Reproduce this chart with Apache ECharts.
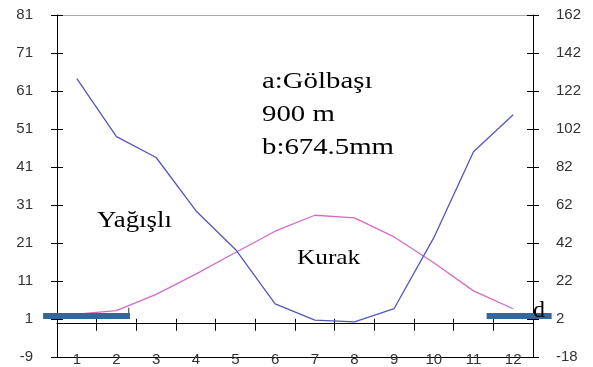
<!DOCTYPE html>
<html>
<head>
<meta charset="utf-8">
<script src="https://cdn.jsdelivr.net/npm/echarts@6/dist/echarts.min.js"></script>
<style>
html,body{margin:0;padding:0;background:#fff;}
#c{width:593px;height:367px;}
</style>
</head>
<body>
<div id="c"></div>
<script>
// Data
var months = ['1','2','3','4','5','6','7','8','9','10','11','12'];
var temperature = [2.3, 3.2, 7.5, 12.8, 18.5, 24.1, 28.3, 27.6, 22.6, 15.8, 8.4, 3.7];      // °C, left axis
var precipitation = [128.5, 98, 87, 59, 38.6, 10, 1.4, 0.5, 7.5, 44.8, 90, 109.5];          // mm, right axis
var leftTicks = {min: -9, max: 81, interval: 10};
var rightTicks = {min: -18, max: 162, interval: 20};
var frostLeft = [[0.15, 2.0], [2.34, 2.0]];
var frostRight = [[11.33, 2.0], [12.97, 2.0]];
var bracket = [[2.31, 2.0], [2.31, 4.2]];
var titleLines = ['a:Gölbaşı', '900 m', 'b:674.5mm'];
var wetLabel = 'Yağışlı';
var dryLabel = 'Kurak';
var markD = 'd';

var W = 593, H = 367;
var G = {left: 57, right: 60, top: 15, bottom: 9};
var plotW = W - G.left - G.right;
var unit = plotW / months.length;
// full-width helper grid, with a value axis mapped identically to the category centres
var helperMin = 0.5 - G.left / unit;
var helperMax = months.length + 0.5 + G.right / unit;

var chart = echarts.init(document.getElementById('c'), null, {renderer: 'canvas'});
var labelFont = {fontFamily: 'Liberation Sans, Arial, sans-serif', fontSize: 15, color: '#333'};
var serif = 'Liberation Serif, Times New Roman, serif';

function yAx(pos, t, showLabel, inside, margin) {
  return {
    type: 'value', gridIndex: 0, position: pos, min: t.min, max: t.max, interval: t.interval,
    splitLine: {show: false},
    axisLine: {show: showLabel, lineStyle: {color: '#000', width: 1}},
    axisTick: {show: true, inside: inside, length: 6, lineStyle: {color: '#000'}},
    axisLabel: Object.assign({show: showLabel, margin: margin}, labelFont)
  };
}

var option = {
  animation: false,
  backgroundColor: '#fff',
  grid: [
    {left: G.left, right: G.right, top: G.top, bottom: G.bottom, containLabel: false},
    {left: 0, right: 0, top: G.top, bottom: G.bottom, containLabel: false}
  ],
  xAxis: [
    { // zero line with ticks (down)
      type: 'category', gridIndex: 0, data: months, position: 'bottom', boundaryGap: true,
      axisLine: {show: true, onZero: true, onZeroAxisIndex: 0, lineStyle: {color: '#000'}},
      axisTick: {show: true, inside: false, length: 8, lineStyle: {color: '#000'}},
      axisLabel: {show: false}, splitLine: {show: false}
    },
    { // zero line ticks (up)
      type: 'category', gridIndex: 0, data: months, position: 'bottom', boundaryGap: true,
      axisLine: {show: false, onZero: true, onZeroAxisIndex: 0},
      axisTick: {show: true, inside: true, length: 4, lineStyle: {color: '#000'}},
      axisLabel: {show: false}, splitLine: {show: false}
    },
    { // bottom line with labels
      type: 'category', gridIndex: 0, data: months, position: 'bottom', boundaryGap: true,
      axisLine: {show: true, onZero: false, lineStyle: {color: '#000'}},
      axisTick: {show: false},
      axisLabel: Object.assign({show: true, margin: -5}, labelFont),
      splitLine: {show: false}
    },
    { // top border
      type: 'category', gridIndex: 0, data: months, position: 'top',
      axisLine: {show: true, onZero: false, lineStyle: {color: '#aaa'}},
      axisTick: {show: false}, axisLabel: {show: false}, splitLine: {show: false}
    },
    { // helper value axis for frost bars
      type: 'value', gridIndex: 1, min: helperMin, max: helperMax, show: false
    }
  ],
  yAxis: [
    yAx('left', leftTicks, true, false, 24),
    yAx('right', rightTicks, true, false, 23),
    yAx('left', leftTicks, false, true, 0),
    yAx('right', rightTicks, false, true, 0),
    {type: 'value', gridIndex: 1, min: leftTicks.min, max: leftTicks.max, show: false}
  ],
  series: [
    {
      type: 'line', name: 'temp', xAxisIndex: 0, yAxisIndex: 0, data: temperature,
      symbol: 'none', lineStyle: {color: '#d46ac8', width: 1.3}, z: 3
    },
    {
      type: 'line', name: 'precip', xAxisIndex: 0, yAxisIndex: 1, data: precipitation,
      symbol: 'none', lineStyle: {color: '#5555c0', width: 1.3}, z: 3
    },
    {
      type: 'line', xAxisIndex: 4, yAxisIndex: 4, data: bracket,
      symbol: 'none', lineStyle: {color: '#333', width: 1}, z: 4
    },
    {
      type: 'line', xAxisIndex: 4, yAxisIndex: 4, data: frostLeft,
      symbol: 'none', lineStyle: {color: '#336699', width: 6, cap: 'butt'}, z: 5
    },
    {
      type: 'line', xAxisIndex: 4, yAxisIndex: 4, data: frostRight,
      symbol: 'none', lineStyle: {color: '#336699', width: 6, cap: 'butt'}, z: 5
    }
  ],
  graphic: [
    {type: 'text', x: 262, y: 82, scaleX: 1.2, style: {text: titleLines[0], fontFamily: serif, fontSize: 24, fill: '#000', verticalAlign: 'middle'}},
    {type: 'text', x: 262, y: 115, scaleX: 1.2, style: {text: titleLines[1], fontFamily: serif, fontSize: 24, fill: '#000', verticalAlign: 'middle'}},
    {type: 'text', x: 262, y: 148, scaleX: 1.2, style: {text: titleLines[2], fontFamily: serif, fontSize: 24, fill: '#000', verticalAlign: 'middle'}},
    {type: 'text', x: 97, y: 221, scaleX: 1.12, style: {text: wetLabel, fontFamily: serif, fontSize: 24, fill: '#000', verticalAlign: 'middle'}},
    {type: 'text', x: 297, y: 258, scaleX: 1.15, style: {text: dryLabel, fontFamily: serif, fontSize: 22, fill: '#000', verticalAlign: 'middle'}},
    {type: 'text', x: 533, y: 311, z: 10, style: {text: markD, fontFamily: serif, fontSize: 24, fill: '#000', verticalAlign: 'middle'}}
  ]
};
chart.setOption(option);
</script>
</body>
</html>
